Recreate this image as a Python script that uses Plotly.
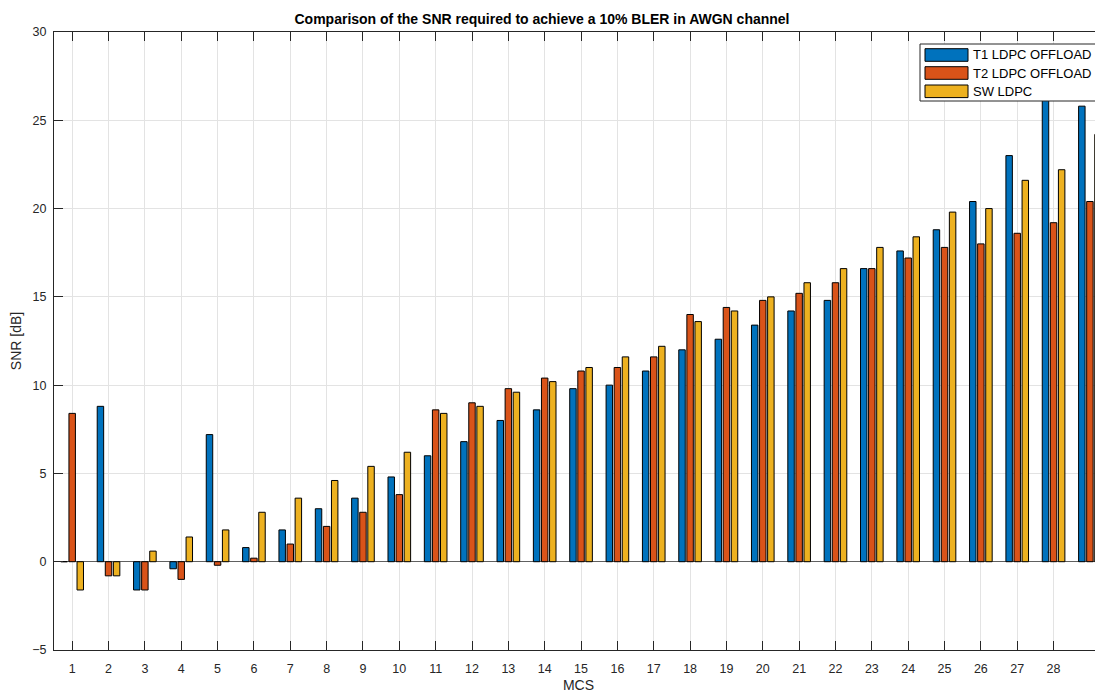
import plotly.graph_objects as go

mcs = list(range(1, 30))
tick_vals = list(range(1, 29))
tick_text = [str(v) for v in tick_vals]

t1_offload = [0.0, 8.8, -1.6, -0.4, 7.2, 0.8, 1.8, 3.0, 3.6, 4.8,
              6.0, 6.8, 8.0, 8.6, 9.8, 10.0, 10.8, 12.0, 12.6, 13.4,
              14.2, 14.8, 16.6, 17.6, 18.8, 20.4, 23.0, 27.6, 25.8]
t2_offload = [8.4, -0.8, -1.6, -1.0, -0.2, 0.2, 1.0, 2.0, 2.8, 3.8,
              8.6, 9.0, 9.8, 10.4, 10.8, 11.0, 11.6, 14.0, 14.4, 14.8,
              15.2, 15.8, 16.6, 17.2, 17.8, 18.0, 18.6, 19.2, 20.4]
sw_ldpc = [-1.6, -0.8, 0.6, 1.4, 1.8, 2.8, 3.6, 4.6, 5.4, 6.2,
           8.4, 8.8, 9.6, 10.2, 11.0, 11.6, 12.2, 13.6, 14.2, 15.0,
           15.8, 16.6, 17.8, 18.4, 19.8, 20.0, 21.6, 22.2, 24.2]

series_names = ["T1 LDPC OFFLOAD", "T2 LDPC OFFLOAD", "SW LDPC"]
series_vals = [t1_offload, t2_offload, sw_ldpc]
colors = ["#0072BD", "#D95319", "#EDB120"]

FONT = "Liberation Sans, Arial, Helvetica, sans-serif"
AX = "#262626"

fig = go.Figure()
for name, vals, c in zip(series_names, series_vals, colors):
    fig.add_trace(go.Bar(x=mcs, y=vals, name=name,
                         marker=dict(color=c, line=dict(color="#000000", width=1)),
                         showlegend=False))

# page body has an 8px margin: figure occupies window pixels 8..1103 / 8..695
OFF = 8
W, H = 1103 - OFF, 695 - OFF
L, R, T, B = 54 - OFF, 0, 32 - OFF, H - (650 - OFF)
pw, ph = W - L - R, H - T - B

def px2x(p):
    return (p - OFF - L) / pw

def px2y(p):
    return (H - B - (p - OFF)) / ph

shapes = []
annotations = []
# legend drawn as box + swatches + labels
shapes.append(dict(type="rect", xref="paper", yref="paper",
                   x0=px2x(920), x1=px2x(1097), y0=px2y(101), y1=px2y(44),
                   line=dict(color=AX, width=1), fillcolor="white", layer="above"))
centers = [55, 73, 91.3]
for name, c, cy in zip(series_names, colors, centers):
    shapes.append(dict(type="rect", xref="paper", yref="paper",
                       x0=px2x(925), x1=px2x(968), y0=px2y(cy + 6.3), y1=px2y(cy - 6.3),
                       line=dict(color="#000000", width=1), fillcolor=c, layer="above"))
    annotations.append(dict(xref="paper", yref="paper", x=px2x(971), y=px2y(cy),
                            xanchor="left", yanchor="middle", text=name, showarrow=False,
                            font=dict(family=FONT, size=13, color="#000000")))

fig.update_layout(
    width=W, height=H, autosize=False,
    margin=dict(l=L, r=R, t=T, b=B, pad=0),
    paper_bgcolor="white", plot_bgcolor="white",
    barmode="group", bargap=0.333, bargroupgap=0.2,
    title=dict(text="<b>Comparison of the SNR required to achieve a 10% BLER in AWGN channel</b>",
               x=(542 - OFF) / W, xref="container", xanchor="center",
               y=1 - (19 - OFF) / H, yref="container", yanchor="middle",
               font=dict(family=FONT, size=14, color="#000000")),
    font=dict(family=FONT, size=12, color=AX),
    shapes=shapes, annotations=annotations,
)

fig.update_xaxes(
    range=[0.5, 29.36], tickmode="array", tickvals=tick_vals, ticktext=tick_text,
    ticks="inside", ticklen=9, tickcolor=AX, tickwidth=1,
    showline=True, linecolor=AX, linewidth=1, mirror="ticks",
    showgrid=True, gridcolor="#e3e3e3", gridwidth=1,
    zeroline=False, ticklabelstandoff=7,
    tickfont=dict(family=FONT, size=12.5, color=AX),
    title=dict(text="MCS", standoff=5, font=dict(family=FONT, size=14, color=AX)),
)
fig.update_yaxes(
    range=[-5, 30], tickmode="linear", tick0=-5, dtick=5,
    ticks="inside", ticklen=9, tickcolor=AX, tickwidth=1,
    showline=True, linecolor=AX, linewidth=1, mirror=False,
    showgrid=True, gridcolor="#e3e3e3", gridwidth=1,
    zeroline=True, zerolinecolor="#606060", zerolinewidth=1,
    ticklabelstandoff=4,
    tickfont=dict(family=FONT, size=12.5, color=AX),
    title=dict(text="SNR [dB]", standoff=8, font=dict(family=FONT, size=14, color=AX)),
)

fig.write_html("out.html")
